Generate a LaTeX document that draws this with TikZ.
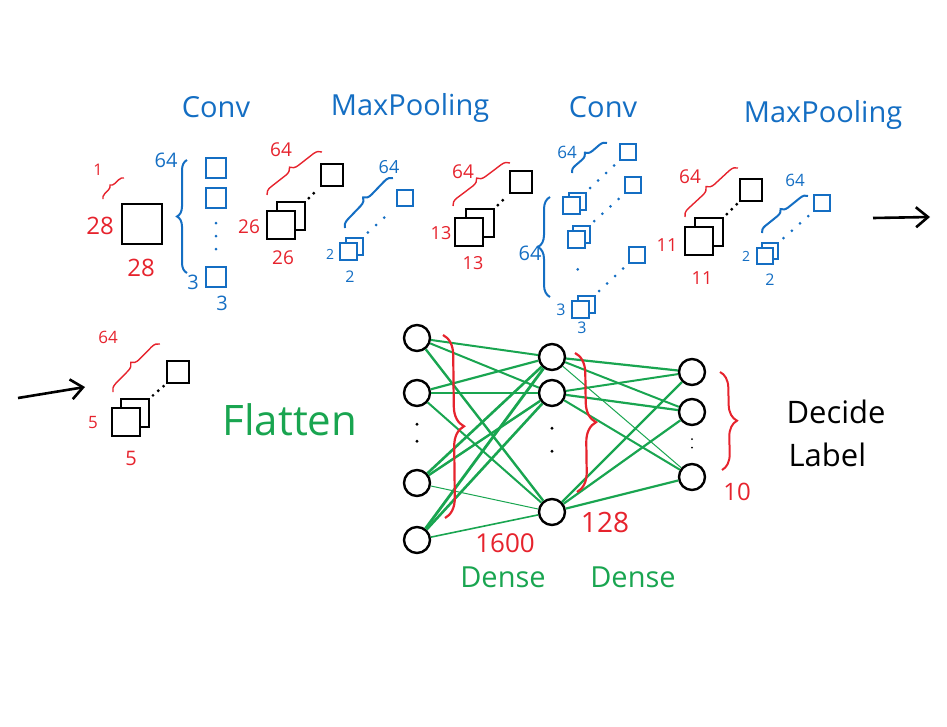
\documentclass[tikz,border=0pt]{standalone}
\usepackage{fontspec}
\setmainfont{Open Sans}
\usetikzlibrary{decorations.pathreplacing,arrows.meta}
\definecolor{nred}{RGB}{230,35,45}
\definecolor{nblue}{RGB}{20,110,195}
\definecolor{ngreen}{RGB}{25,165,80}
\tikzset{
  sqk/.style={draw=black, line width=2pt, fill=white, minimum size=#1, inner sep=0pt},
  sqb/.style={draw=nblue, line width=2pt, fill=white, minimum size=#1, inner sep=0pt},
  neuron/.style={circle, draw=black, line width=2.4pt, fill=white, minimum size=26pt, inner sep=0pt},
  kdots/.style={line width=3.2pt, line cap=round, dash pattern=on 0pt off 7pt},
  bdots/.style={nblue, line width=3pt, line cap=round, dash pattern=on 0pt off 11pt},
  rwave/.style={nred, line width=1.4pt, decorate, decoration={brace, amplitude=#1}},
  bwave/.style={nblue, line width=2pt, decorate, decoration={brace, amplitude=#1}},
  headline/.style={text=nblue, font=\fontsize{29}{30}\selectfont},
  rnum/.style={text=nred, inner sep=0pt, font=\fontsize{#1}{#1}\selectfont},
  bnum/.style={text=nblue, inner sep=0pt, font=\fontsize{#1}{#1}\selectfont},
  gtext/.style={text=ngreen, font=\fontsize{#1}{#1}\selectfont},
  syn/.style={ngreen, line width=#1},
  bigarrow/.style={line width=2.6pt, -{Straight Barb[length=12pt,width=20pt]}}
}
\begin{document}
\begin{tikzpicture}[x=1pt, y=-1pt]
  \useasboundingbox (0,0) rectangle (947,726);

  % layer names
  \node[headline] (conv1) at (216,107) {Conv};
  \node[headline] (pool1) at (410,108) {MaxPooling};
  \node[headline] (conv2) at (603,107) {Conv};
  \node[headline] (pool2) at (823,115) {MaxPooling};

  % input image
  \node[sqk=40pt] (img) at (142,224) {};
  \node[rnum=24] (imgh) at (100,226) {28};
  \node[rnum=24] (imgw) at (141,268) {28};
  \node[rnum=16] (imgc) at (98,170) {1};
  \draw[rwave=5pt] (103,199) -- (124,178);

  % first conv filters
  \node[sqb=20pt] (k1a) at (216,168) {};
  \node[sqb=20pt] (k1b) at (216,198) {};
  \node[sqb=20pt] (k1z) at (216,277) {};
  \draw[bdots, dash pattern=on 0pt off 13pt, shorten <=14pt, shorten >=17pt] (k1b) -- (k1z);
  \draw[bwave=10pt] (187,273) -- (187,160);
  \node[bnum=20] (k1n) at (166,160) {64};
  \node[bnum=20] (k1h) at (193,282) {3};
  \node[bnum=20] (k1w) at (222,303) {3};

  % feature maps 26
  \node[sqk=28pt] (fm1b) at (291,216) {};
  \node[sqk=28pt] (fm1f) at (281,225) {};
  \node[sqk=22pt] (fm1z) at (332,175) {};
  \draw[kdots, shorten <=4pt, shorten >=3pt] (fm1b.north east) -- (fm1z.south west);
  \node[rnum=19] (fm1h) at (249,227) {26};
  \node[rnum=19] (fm1w) at (283,258) {26};
  \draw[rwave=8pt] (267,195) -- (322,152);
  \node[rnum=19] (fm1n) at (281,150) {64};

  % first pooling windows
  \node[sqb=17pt] (p1b) at (354,246) {};
  \node[sqb=17pt] (p1f) at (348,251) {};
  \node[sqb=16pt] (p1z) at (405,198) {};
  \draw[bdots, shorten <=6pt, shorten >=6pt] (p1b.north east) -- (p1z.south west);
  \node[bnum=14] (p1h) at (330,254) {2};
  \node[bnum=16] (p1w) at (350,277) {2};
  \draw[bwave=8pt] (345,228) -- (393,178);
  \node[bnum=18] (p1n) at (389,167) {64};

  % feature maps 13
  \node[sqk=28pt] (fm2b) at (480,223) {};
  \node[sqk=28pt] (fm2f) at (469,232) {};
  \node[sqk=22pt] (fm2z) at (521,182) {};
  \draw[kdots, shorten <=4pt, shorten >=3pt] (fm2b.north east) -- (fm2z.south west);
  \node[rnum=18] (fm2h) at (441,233) {13};
  \node[rnum=18] (fm2w) at (473,263) {13};
  \draw[rwave=8pt] (453,206) -- (510,163);
  \node[rnum=19] (fm2n) at (463,172) {64};

  % second conv filters
  \node[sqb=17pt] (k2ab) at (577,201) {};
  \node[sqb=17pt] (k2af) at (571,205) {};
  \node[sqb=17pt] (k2bb) at (581,234) {};
  \node[sqb=17pt] (k2bf) at (576,239) {};
  \node[sqb=17pt] (k2zb) at (586,304) {};
  \node[sqb=17pt] (k2zf) at (580,309) {};
  \node[sqb=16pt] (k2ar) at (628,152) {};
  \node[sqb=16pt] (k2br) at (633,185) {};
  \node[sqb=16pt] (k2zr) at (637,255) {};
  \draw[bdots, shorten <=5pt, shorten >=5pt] (k2ab.north east) -- (k2ar.south west);
  \draw[bdots, shorten <=5pt, shorten >=5pt] (k2bb.north east) -- (k2br.south west);
  \draw[bdots, shorten <=5pt, shorten >=5pt] (k2zb.north east) -- (k2zr.south west);
  \draw[bdots, dash pattern=on 0pt off 14pt, shorten <=21pt, shorten >=18pt] (k2bf) -- (k2zf);
  \draw[bwave=12pt] (550,297) -- (550,197);
  \node[bnum=20] (k2m) at (530,253) {64};
  \draw[bwave=7pt] (572,173) -- (607,143);
  \node[bnum=17] (k2n) at (567,152) {64};
  \node[bnum=16] (k2h) at (561,310) {3};
  \node[bnum=16] (k2w) at (582,328) {3};

  % feature maps 11
  \node[sqk=28pt] (fm3b) at (709,232) {};
  \node[sqk=28pt] (fm3f) at (699,241) {};
  \node[sqk=22pt] (fm3z) at (751,190) {};
  \draw[kdots, shorten <=4pt, shorten >=3pt] (fm3b.north east) -- (fm3z.south west);
  \node[rnum=18] (fm3h) at (667,245) {11};
  \node[rnum=18] (fm3w) at (702,278) {11};
  \draw[rwave=8pt] (685,217) -- (738,168);
  \node[rnum=19] (fm3n) at (690,177) {64};

  % second pooling windows
  \node[sqb=16pt] (p2b) at (770,251) {};
  \node[sqb=16pt] (p2f) at (765,256) {};
  \node[sqb=16pt] (p2z) at (822,203) {};
  \draw[bdots, shorten <=6pt, shorten >=6pt] (p2b.north east) -- (p2z.south west);
  \node[bnum=14] (p2h) at (746,256) {2};
  \node[bnum=16] (p2w) at (770,280) {2};
  \draw[bwave=7pt] (762,233) -- (808,196);
  \node[bnum=17] (p2n) at (795,180) {64};

  \coordinate (outA) at (873,218);
  \coordinate (outB) at (930,217);
  \draw[bigarrow] (outA) -- (outB);

  % second row
  \coordinate (inA) at (18,398);
  \coordinate (inB) at (85,387);
  \draw[bigarrow] (inA) -- (inB);

  \node[sqk=28pt] (fm4b) at (135,413) {};
  \node[sqk=28pt] (fm4f) at (126,422) {};
  \node[sqk=22pt] (fm4z) at (178,372) {};
  \draw[kdots, shorten <=4pt, shorten >=3pt] (fm4b.north east) -- (fm4z.south west);
  \node[rnum=17] (fm4h) at (93,423) {5};
  \node[rnum=20] (fm4w) at (131,458) {5};
  \draw[rwave=8pt] (113,392) -- (160,344);
  \node[rnum=17] (fm4n) at (108,337) {64};

  \node[gtext=42] (flat) at (290,420) {Flatten};

  % dense layers
  \node[neuron] (n11) at (417,338) {};
  \node[neuron] (n12) at (417,393) {};
  \node[neuron] (n13) at (417,483) {};
  \node[neuron] (n14) at (417,540) {};
  \node[neuron] (n21) at (552,357) {};
  \node[neuron] (n22) at (552,393) {};
  \node[neuron] (n23) at (552,512) {};
  \node[neuron] (n31) at (692,372) {};
  \node[neuron] (n32) at (692,412) {};
  \node[neuron] (n33) at (692,477) {};

  \foreach \a/\b/\w in {n11/n21/2pt, n11/n22/2pt, n11/n23/2.4pt,
                        n12/n21/2.2pt, n12/n22/2.6pt, n12/n23/2pt,
                        n13/n21/2.6pt, n13/n22/2.4pt, n13/n23/1pt,
                        n14/n21/2.8pt, n14/n22/2.6pt, n14/n23/1.6pt}
    \draw[syn=\w] (\a) -- (\b);
  \foreach \a/\b/\w in {n21/n31/2.2pt, n21/n32/2pt, n21/n33/1pt,
                        n22/n31/2pt, n22/n32/2.2pt, n22/n33/2pt,
                        n23/n31/2.4pt, n23/n32/2.2pt, n23/n33/2.2pt}
    \draw[syn=\w] (\a) -- (\b);

  \draw[kdots, dash pattern=on 0pt off 17pt, shorten <=17pt, shorten >=13pt] (n12) -- (n13);
  \draw[kdots, dash pattern=on 0pt off 23pt, shorten <=21pt, shorten >=26pt] (n22) -- (n23);
  \draw[kdots, line width=2pt, dash pattern=on 0pt off 8.5pt, shorten <=13pt, shorten >=9pt] (n32) -- (n33);

  \draw[rwave=20pt, line width=2.2pt] (443,335) -- (445,518);
  \node[rnum=26] (w1n) at (505,543) {1600};
  \draw[rwave=20pt, line width=2.2pt] (575,353) -- (577,492);
  \node[rnum=28] (w2n) at (605,522) {128};
  \draw[rwave=16pt, line width=2pt] (720,372) -- (722,470);
  \node[rnum=24] (outn) at (737,492) {10};

  \node[gtext=29] (dense1) at (503,577) {Dense};
  \node[gtext=29] (dense2) at (633,577) {Dense};
  \node[anchor=west, font=\fontsize{31}{32}\selectfont] (decide) at (783,412) {Decide};
  \node[anchor=west, font=\fontsize{31}{32}\selectfont] (label) at (785,455) {Label};
\end{tikzpicture}
\end{document}
